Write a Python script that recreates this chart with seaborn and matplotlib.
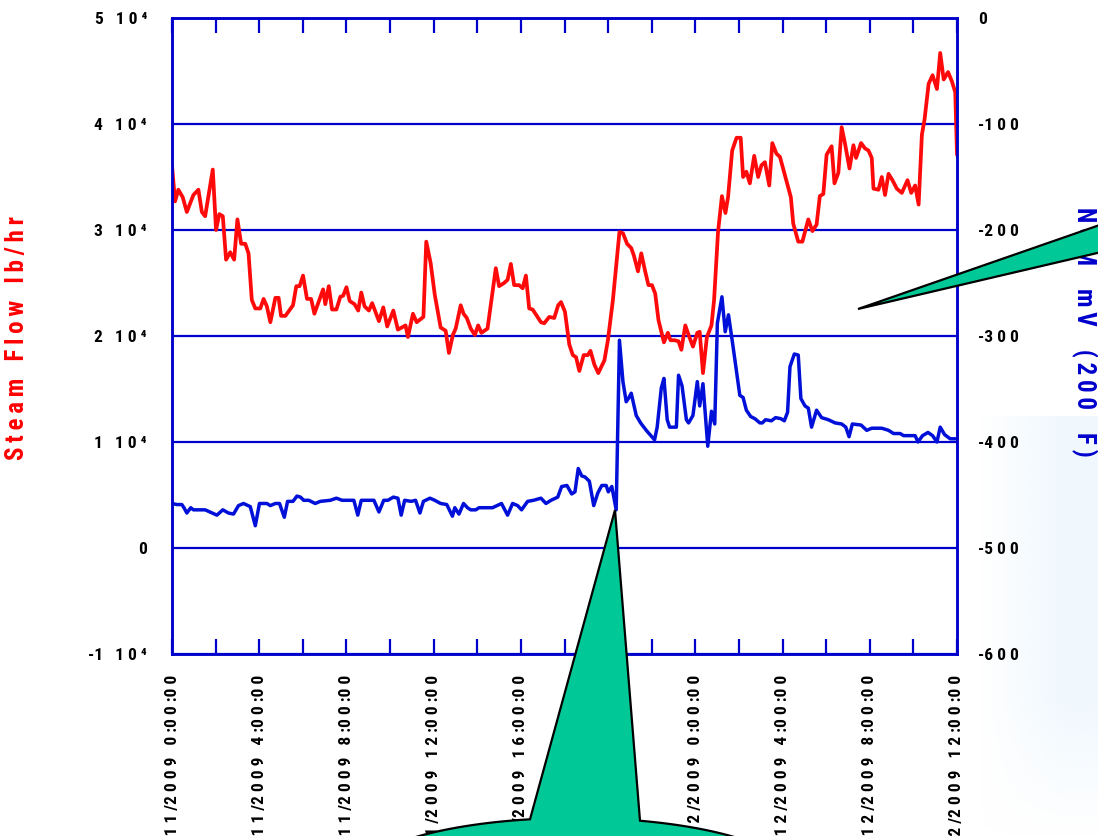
import numpy as np
import pandas as pd
import matplotlib
matplotlib.use("Agg")
import matplotlib.pyplot as plt
from matplotlib import font_manager
from matplotlib.patches import Polygon
import seaborn as sns

# ---------------------------------------------------------------- data
start = pd.Timestamp("2009-12-11 00:00")

# steam flow (lb/hr), hours after start
flow_hours = [
    0.0, 0.14, 0.29, 0.49, 0.68, 0.98, 1.21, 1.37, 1.52, 1.87,
    2.02, 2.17, 2.33, 2.48, 2.67, 2.85, 3.00, 3.17, 3.36, 3.51,
    3.66, 3.82, 4.05, 4.20, 4.35, 4.51, 4.74, 4.89, 5.00, 5.20,
    5.55, 5.70, 5.85, 6.01, 6.19, 6.38, 6.53, 6.93, 7.03, 7.19,
    7.34, 7.54, 7.72, 7.85, 8.00, 8.15, 8.37, 8.54, 8.68, 8.83,
    9.03, 9.18, 9.49, 9.69, 9.87, 10.15, 10.36, 10.71, 10.82, 11.05,
    11.22, 11.53, 11.66, 11.86, 12.05, 12.32, 12.55, 12.70, 12.88, 13.01,
    13.24, 13.37, 13.52, 13.70, 13.89, 14.04, 14.19, 14.47, 14.85, 15.00,
    15.23, 15.39, 15.54, 15.69, 15.92, 16.08, 16.23, 16.38, 16.54, 16.92,
    17.07, 17.30, 17.53, 17.71, 17.84, 18.02, 18.22, 18.38, 18.53, 18.68,
    18.88, 19.07, 19.19, 19.37, 19.55, 19.83, 19.99, 20.22, 20.52, 20.68,
    20.87, 21.06, 21.18, 21.37, 21.52, 21.70, 21.85, 22.01, 22.16, 22.31,
    22.56, 22.74, 22.86, 23.05, 23.23, 23.36, 23.54, 23.69, 23.89, 24.09,
    24.20, 24.35, 24.53, 24.74, 24.86, 25.04, 25.22, 25.38, 25.50, 25.69,
    25.89, 26.08, 26.19, 26.34, 26.50, 26.70, 26.88, 27.03, 27.19, 27.39,
    27.53, 27.72, 27.88, 28.18, 28.38, 28.49, 28.72, 28.91, 29.18, 29.37,
    29.56, 29.71, 29.87, 30.02, 30.25, 30.38, 30.56, 30.71, 30.86, 31.07,
    31.25, 31.37, 31.60, 31.78, 31.94, 32.09, 32.17, 32.40, 32.55, 32.70,
    32.86, 33.04, 33.24, 33.47, 33.73, 33.90, 34.08, 34.24, 34.39, 34.51,
    34.70, 34.88, 35.08, 35.23, 35.39, 35.59, 35.77, 35.92, 36.0,
]
flow_lbhr = [
    36100, 32700, 33800, 33100, 31700, 33300, 33800, 31700, 31300, 35700,
    30000, 31500, 31300, 27200, 27900, 27200, 31000, 28700, 28700, 27800,
    23400, 22600, 22600, 23500, 22800, 21300, 23600, 23600, 21900, 21900,
    22900, 24700, 24700, 25700, 23500, 23500, 22100, 24400, 23000, 24700,
    22500, 22500, 23700, 23800, 24600, 23300, 23000, 22400, 24100, 22800,
    22400, 23100, 21400, 22700, 20900, 22400, 20600, 21000, 19900, 22100,
    21300, 21800, 28900, 26900, 23900, 20800, 20500, 18400, 20100, 20700,
    22900, 22100, 21700, 20700, 20100, 21000, 20300, 20700, 26400, 24700,
    25000, 25300, 26800, 24800, 24800, 24500, 25700, 22600, 22500, 21300,
    21200, 21800, 21700, 22900, 23200, 22300, 19200, 18200, 18000, 16700,
    18200, 18200, 18600, 17300, 16500, 17700, 19600, 23400, 29800, 29700,
    28700, 28300, 27600, 26100, 27800, 26100, 24800, 24800, 24000, 21500,
    19400, 20300, 19600, 19600, 19500, 18700, 21000, 20100, 19000, 20300,
    20400, 16500, 19900, 21000, 23400, 29800, 33200, 31600, 33100, 37500,
    38700, 38700, 35000, 35500, 34400, 37000, 35000, 36100, 36400, 34200,
    38200, 37200, 36900, 34600, 33100, 30600, 28900, 28900, 31000, 29900,
    30500, 33200, 33400, 37100, 37900, 34400, 35400, 39700, 38200, 35800,
    38000, 36800, 38200, 37700, 37500, 36800, 33900, 33800, 35000, 33300,
    35300, 34700, 33900, 33500, 34700, 33500, 34200, 32400, 39000, 40400,
    43800, 44600, 43300, 46700, 44200, 44900, 44000, 43000, 37100,
]

# NCM potential (mV at 200 F), hours after start
ncm_hours = [
    0.0, 0.22, 0.45, 0.55, 0.68, 0.86, 0.98, 1.52, 2.06, 2.33,
    2.59, 2.82, 3.05, 3.28, 3.59, 3.82, 4.01, 4.35, 4.51, 4.74,
    4.93, 5.15, 5.30, 5.55, 5.73, 5.89, 6.04, 6.27, 6.57, 6.80,
    7.26, 7.54, 7.80, 8.34, 8.52, 8.68, 9.03, 9.26, 9.49, 9.71,
    9.90, 10.15, 10.36, 10.51, 10.67, 10.97, 11.17, 11.37, 11.53, 11.83,
    12.05, 12.32, 12.60, 12.86, 12.97, 13.16, 13.37, 13.55, 13.70, 13.93,
    14.08, 14.70, 15.11, 15.39, 15.62, 15.85, 16.03, 16.31, 16.58, 16.92,
    17.15, 17.38, 17.69, 17.87, 18.11, 18.33, 18.48, 18.63, 18.79, 18.94,
    19.14, 19.34, 19.53, 19.71, 19.91, 20.01, 20.17, 20.37, 20.52, 20.68,
    20.83, 20.93, 21.06, 21.29, 21.49, 21.75, 22.13, 22.25, 22.44, 22.56,
    22.71, 22.82, 23.13, 23.23, 23.39, 23.59, 23.69, 23.89, 24.09, 24.20,
    24.35, 24.57, 24.74, 24.89, 25.01, 25.22, 25.37, 25.52, 25.73, 26.04,
    26.19, 26.34, 26.54, 26.73, 26.96, 27.07, 27.22, 27.49, 27.68, 27.92,
    28.08, 28.23, 28.34, 28.54, 28.72, 28.84, 29.03, 29.18, 29.33, 29.56,
    29.79, 30.10, 30.41, 30.71, 30.90, 31.05, 31.20, 31.60, 31.86, 32.09,
    32.55, 32.86, 33.09, 33.39, 33.55, 34.08, 34.21, 34.42, 34.67, 34.88,
    35.08, 35.23, 35.43, 35.69, 36.0,
]
ncm_mv = [
    -458, -459, -459, -462, -467, -462, -464, -464, -469, -464,
    -467, -468, -460, -458, -461, -479, -458, -458, -460, -458,
    -458, -471, -456, -456, -451, -452, -455, -455, -458, -456,
    -455, -453, -455, -455, -469, -455, -455, -455, -466, -455,
    -455, -452, -453, -469, -455, -456, -455, -467, -456, -453,
    -455, -458, -459, -470, -462, -468, -458, -462, -464, -464,
    -462, -462, -458, -469, -458, -460, -464, -456, -455, -453,
    -458, -455, -452, -442, -441, -449, -447, -425, -432, -433,
    -437, -460, -448, -441, -441, -447, -442, -464, -304, -343,
    -362, -359, -354, -375, -382, -389, -398, -386, -349, -340,
    -379, -386, -386, -337, -347, -379, -382, -375, -343, -366,
    -345, -404, -371, -383, -288, -263, -296, -280, -310, -356,
    -358, -370, -376, -378, -382, -382, -379, -380, -377, -378,
    -380, -372, -329, -317, -318, -359, -366, -368, -386, -370,
    -377, -379, -382, -383, -386, -395, -383, -384, -389, -387,
    -387, -389, -392, -392, -394, -394, -400, -394, -391, -394,
    -400, -386, -393, -397, -397,
]

flow_ticks = [-10000, 0, 10000, 20000, 30000, 40000, 50000]
flow_tick_labels = ["-1 10⁴", "0", "1 10⁴", "2 10⁴", "3 10⁴", "4 10⁴", "5 10⁴"]
ncm_ticks = [-600, -500, -400, -300, -200, -100, 0]
ncm_tick_labels = ["-600", "-500", "-400", "-300", "-200", "-100", "0"]
time_tick_hours = [0, 4, 8, 12, 16, 20, 24, 28, 32, 36]
time_tick_labels = [
    "12/11/2009 0:00:00", "12/11/2009 4:00:00", "12/11/2009 8:00:00",
    "12/11/2009 12:00:00", "12/11/2009 16:00:00", "12/11/2009 20:00:00",
    "12/12/2009 0:00:00", "12/12/2009 4:00:00", "12/12/2009 8:00:00",
    "12/12/2009 12:00:00",
]
flow_label = "Steam Flow lb/hr"
ncm_label = "NCM mV (200 F)"

# ---------------------------------------------------------------- style
W, H = 1098, 836
BLUE = "#0000CC"
LINE_BLUE = "#0010D8"
RED = "#FF0A0A"
GREEN = "#00C896"

sns.set_theme(style="white")
available = {f.name for f in font_manager.fontManager.ttflist}
narrow_choices = ["Liberation Sans Narrow", "Arimo Narrow", "Roboto Condensed",
                  "Archivo Narrow", "PT Sans Narrow", "Fira Sans Condensed",
                  "Sofia Sans Condensed"]
narrow = next((n for n in narrow_choices if n in available), "Liberation Sans")
plt.rcParams["font.family"] = [narrow, "DejaVu Sans"]


def tracked(text):
    """Letter-spaced numerals; '/', ':' and '-' stay attached to what follows."""
    out = ""
    for i, ch in enumerate(text):
        out += ch
        if i < len(text) - 1 and ch not in "/:-":
            out += " "
    return out


def title_tracked(text, gap="   "):
    """Thin spacing inside words, wider gaps between them."""
    return gap.join("\u2009".join(word) for word in text.split(" "))


flow_df = pd.DataFrame({
    "time": start + pd.to_timedelta(flow_hours, unit="h"),
    "flow": flow_lbhr,
})
ncm_df = pd.DataFrame({
    "time": start + pd.to_timedelta(ncm_hours, unit="h"),
    "ncm": ncm_mv,
})

fig = plt.figure(figsize=(W / 100, H / 100), dpi=100)
fig.patch.set_facecolor("white")

# faint blue wash in the lower right corner of the page
bg = fig.add_axes([980 / W, 0, (W - 980) / W, 420 / H])
gx = np.clip(np.linspace(0, 1.4, 200), 0, 1)
gy = np.clip(np.linspace(3.0, 0, 200), 0, 1)
alpha = np.outer(gy, gx)
wash = np.zeros((200, 200, 4))
wash[..., 0] = 240 / 255
wash[..., 1] = 248 / 255
wash[..., 2] = 254 / 255
wash[..., 3] = alpha
bg.imshow(wash, aspect="auto", extent=[0, 1, 0, 1])
bg.axis("off")
bg.set_zorder(-5)

ax = fig.add_axes([172 / W, 1 - 654 / H, (957 - 172) / W, (654 - 18) / H])
ax2 = ax.twinx()

sns.lineplot(data=flow_df, x="time", y="flow", ax=ax, color=RED,
             linewidth=2.7, estimator=None, sort=False)
sns.lineplot(data=ncm_df, x="time", y="ncm", ax=ax2, color=LINE_BLUE,
             linewidth=2.5, estimator=None, sort=False)

ax.set_ylim(-10000, 50000)
ax2.set_ylim(-600, 0)
ax.set_xlim(start, start + pd.Timedelta(hours=36))

ax.set_yticks(flow_ticks)
ax.set_yticklabels([tracked(s) for s in flow_tick_labels])
ax2.set_yticks(ncm_ticks)
ax2.set_yticklabels([tracked(s) for s in ncm_tick_labels])

major = [start + pd.Timedelta(hours=h) for h in time_tick_hours]
minor = [start + pd.Timedelta(hours=h) for h in range(2, 36, 4)]
ax.set_xticks(major)
ax.set_xticklabels([tracked(s) for s in time_tick_labels], rotation=90,
                   va="top", ha="center")
ax.set_xticks(minor, minor=True)

ax.set_xlabel("")
ax.set_ylabel("")
ax2.set_ylabel("")

for lab in ax.get_yticklabels() + ax2.get_yticklabels() + ax.get_xticklabels():
    lab.set_fontsize(12.5)
    lab.set_fontweight("semibold")
    lab.set_color("black")

ax.tick_params(axis="x", which="both", direction="in", length=11, width=1.6,
               color=BLUE, top=True, bottom=True, pad=15)
ax.tick_params(axis="y", length=0, pad=18)
ax2.tick_params(axis="y", length=0, pad=15)

ax.grid(axis="y", color=BLUE, linewidth=1.6)
ax.grid(axis="x", visible=False)
ax2.grid(False)
for a in (ax, ax2):
    for sp in a.spines.values():
        sp.set_visible(True)
        sp.set_color(BLUE)
        sp.set_linewidth(1.8)

# axis titles
fig.text(17 / W, 1 - 338 / H, title_tracked(flow_label), rotation=90,
         color="#FF0000", ha="center", va="center", fontsize=18,
         fontweight="semibold", zorder=3)
fig.text(1084 / W, 1 - 332 / H, title_tracked(ncm_label, "    "), rotation=-90,
         color=BLUE, ha="center", va="center", fontsize=18,
         fontweight="semibold", zorder=3)


# ---------------------------------------------------------------- callouts
def fig_xy(points):
    return [(x / W, 1 - y / H) for x, y in points]


# pointer to the step in NCM potential, bubble below the page edge
tip = (615, 510)
cx, cy, ra, rb = 575, 880, 221, 62
left_x, right_x = 530, 640
th_l = -np.pi + np.arccos((cx - left_x) / ra)   # upper-left attachment
th_r = -np.arccos((right_x - cx) / ra)          # upper-right attachment
theta = np.linspace(th_l, th_r - 2 * np.pi, 240)
arc = [(cx + ra * np.cos(t), cy + rb * np.sin(t)) for t in theta]
bubble = [tip] + arc + [tip]
fig.add_artist(Polygon(fig_xy(bubble), closed=True, transform=fig.transFigure,
                       facecolor=GREEN, edgecolor="black", linewidth=1.6,
                       zorder=6))

# pointer from the right-hand bubble into the plot
wedge = [(858, 309), (1140, 211), (1140, 243)]
fig.add_artist(Polygon(fig_xy(wedge), closed=True, transform=fig.transFigure,
                       facecolor=GREEN, edgecolor="black", linewidth=1.6,
                       zorder=6))

fig.savefig("out.png", dpi=100, facecolor="white")
